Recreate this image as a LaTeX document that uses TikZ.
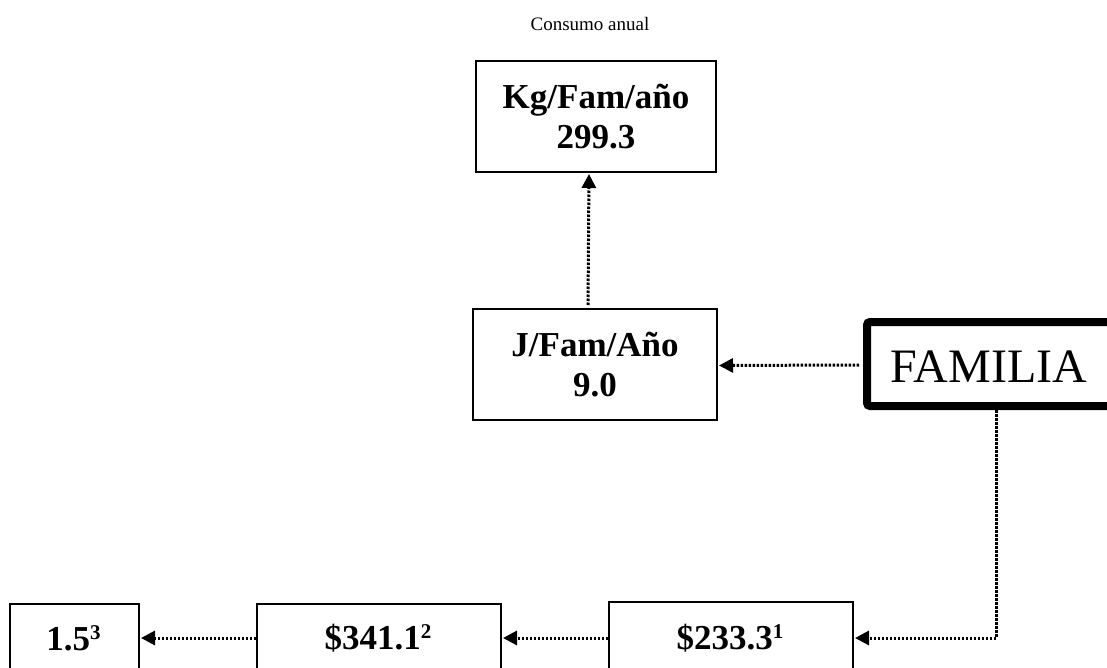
\documentclass[tikz,border=0pt]{standalone}
\usepackage{fontspec}
\setmainfont{Liberation Serif}
\usetikzlibrary{arrows.meta,calc}
\newcommand{\supnum}[1]{\raisebox{11pt}{\fontsize{21}{21}\selectfont #1}}
\begin{document}
\begin{tikzpicture}[x=1pt,y=-1pt,
  valbox/.style={draw,line width=2pt,inner sep=0pt,font=\fontsize{35}{40}\selectfont\bfseries,align=center},
  valtext/.style={font=\fontsize{35}{40}\selectfont\bfseries,inner sep=0pt},
  famframe/.style={draw,line width=8pt,rounded corners=3pt,inner sep=0pt},
  flow/.style={line width=3pt,dash pattern=on 2.5pt off 1.5pt,-{Triangle[length=14pt,width=14pt]},shorten >=1pt}
]
\useasboundingbox (0,0) rectangle (1107,668);
\clip (0,0) rectangle (1107,668);
\node[font=\fontsize{19}{22}\selectfont] (title) at (590,24) {Consumo anual};
\node[valbox,minimum width=240pt,minimum height=111pt] (kg) at (596,116.5) {Kg/Fam/año\\299.3};
\node[valbox,minimum width=244pt,minimum height=111pt] (j) at (595,364.5) {J/Fam/Año\\9.0};
\node[famframe,minimum width=300pt,minimum height=84pt] (fam) at (1017,364) {};
\node[font=\fontsize{48}{50}\selectfont] (famt) at (989,367) {FAMILIA};
\node[valbox,minimum width=129pt,minimum height=90pt,anchor=north west] (c) at (9,603) {};
\node[valtext] (ct) at (73.5,638) {1.5\supnum{3}};
\node[valbox,minimum width=244pt,minimum height=90pt,anchor=north west] (b) at (256,603) {};
\node[valtext] (bt) at (378,638) {\$341.1\supnum{2}};
\node[valbox,minimum width=244pt,minimum height=90pt,anchor=north west] (a) at (608,601) {};
\node[valtext] (at) at (730,638) {\$233.3\supnum{1}};
\draw[flow] ($(j.north)+(-7,-3)$) -- ($(kg.south)+(-7,0)$);
\draw[flow] ($(fam.west)+(-4,1)$) -- ($(j.east)+(0,1)$);
\draw[flow,shorten <=0pt] ($(fam.south)+(-21,0)$) |- (a.east |- at);
\draw[flow] (a.west |- at) -- (b.east |- at);
\draw[flow] (b.west |- at) -- (c.east |- at);
\end{tikzpicture}
\end{document}
